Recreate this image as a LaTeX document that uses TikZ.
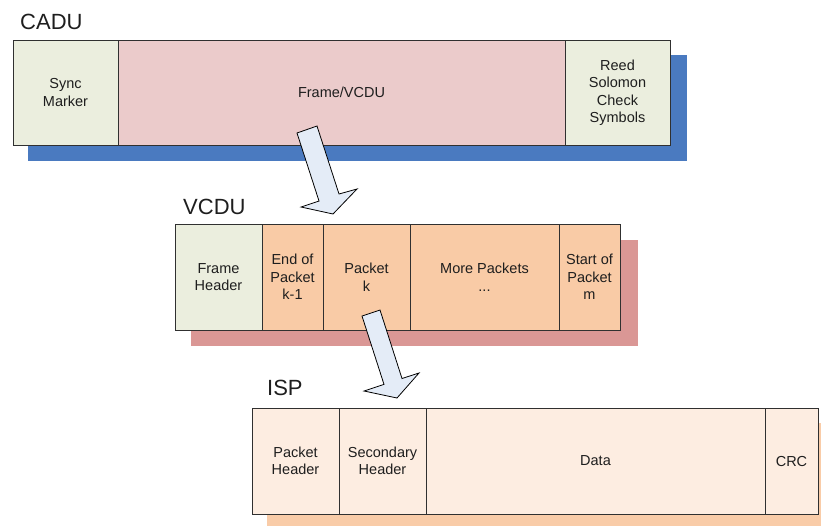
\documentclass[tikz,border=0pt]{standalone}
\usepackage{fontspec}
\setmainfont{Liberation Sans}
\definecolor{txt}{HTML}{1E1E1E}
\definecolor{edge}{HTML}{303030}
\definecolor{hdrfill}{HTML}{EBEEDE}
\definecolor{framefill}{HTML}{EBCBCB}
\definecolor{blueshadow}{HTML}{4A7AC0}
\definecolor{vcdufill}{HTML}{F9CBA6}
\definecolor{vcdushadow}{HTML}{DA9795}
\definecolor{ispfill}{HTML}{FDEDE1}
\definecolor{ispshadow}{HTML}{F9CCA8}
\definecolor{arrowfill}{HTML}{E4ECF7}
\tikzset{
  cell/.style={draw=edge, line width=1pt, inner sep=0pt, outer sep=0pt, align=center,
    text=txt, font=\fontsize{14.5}{17.5}\selectfont},
  title/.style={text=txt, font=\fontsize{22}{26}\selectfont, inner sep=0pt, anchor=west},
  blockarrow/.style={draw=black, fill=arrowfill, line width=0.8pt, line join=miter}
}
\begin{document}
\begin{tikzpicture}[x=1pt,y=-1pt]
\useasboundingbox (0,0) rectangle (821,525);
% CADU
\node[title] (cadut) at (20,22) {CADU};
\fill[blueshadow] (28,55) rectangle (687,161);
\node[cell, fill=hdrfill, minimum width=105pt, minimum height=105pt] (sync) at (65.5,92.5) {Sync\\Marker};
\node[cell, fill=framefill, minimum width=447pt, minimum height=105pt] (frame) at (341.5,92.5) {Frame/VCDU};
\node[cell, fill=hdrfill, minimum width=105pt, minimum height=105pt] (rs) at (617.5,92.5) {Reed\\Solomon\\Check\\Symbols};
% VCDU
\node[title] (vcdut) at (183,207) {VCDU};
\fill[vcdushadow] (191,240) rectangle (638,346);
\node[cell, fill=hdrfill, minimum width=87pt, minimum height=106pt] (fh) at (218.5,277) {Frame\\Header};
\node[cell, fill=vcdufill, minimum width=61pt, minimum height=106pt] (eop) at (292.5,277) {End of\\Packet\\k-1};
\node[cell, fill=vcdufill, minimum width=87pt, minimum height=106pt] (pk) at (366.5,277) {Packet\\k};
\node[cell, fill=vcdufill, minimum width=149pt, minimum height=106pt] (more) at (484.5,277) {More Packets\\...};
\node[cell, fill=vcdufill, minimum width=61pt, minimum height=106pt] (sop) at (589.5,277) {Start of\\Packet\\m};
% ISP
\node[title] (ispt) at (267,388) {ISP};
\fill[ispshadow] (267,423) rectangle (840,545);
\node[cell, fill=ispfill, minimum width=87pt, minimum height=106pt] (ph) at (295.5,461) {Packet\\Header};
\node[cell, fill=ispfill, minimum width=87pt, minimum height=106pt] (sh) at (382.5,461) {Secondary\\Header};
\node[cell, fill=ispfill, minimum width=339pt, minimum height=106pt] (data) at (595.5,461) {Data};
\node[cell, fill=ispfill, minimum width=53pt, minimum height=106pt] (crc) at (791.5,461) {CRC};
% block arrows
\draw[blockarrow] (297,133) -- (317,126) -- (339,194) -- (357,189) -- (333,214) -- (301,207) -- (319,201) -- cycle;
\draw[blockarrow] (362,316) -- (380,310) -- (402,378.5) -- (419,373) -- (397,398) -- (364,391) -- (384,384.4) -- cycle;
\end{tikzpicture}
\end{document}
